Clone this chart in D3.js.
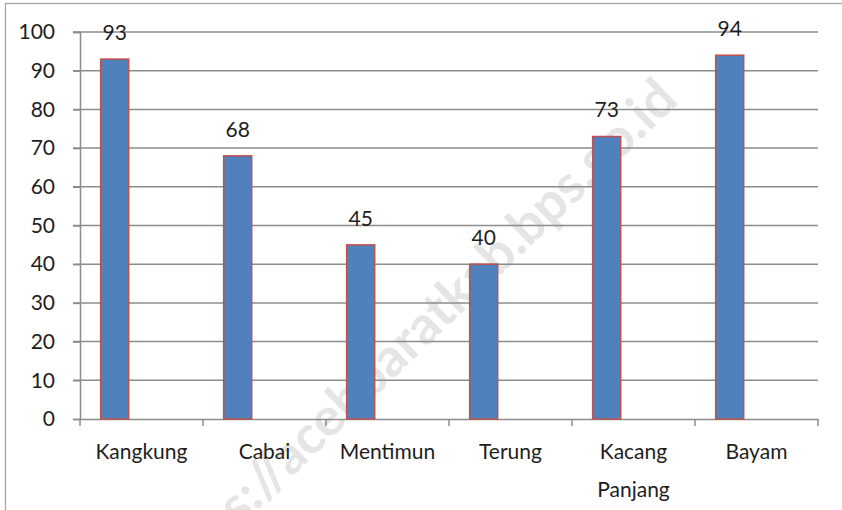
<!DOCTYPE html>
<html><head><meta charset="utf-8">
<script src="https://cdn.jsdelivr.net/npm/d3@7"></script>
<style>body{margin:0;background:#fff}svg{display:block}</style>
</head><body>
<svg id="c" width="842" height="510"></svg>
<script>
const categories = ["Kangkung", "Cabai", "Mentimun", "Terung", "Kacang Panjang", "Bayam"];
const values = [93, 68, 45, 40, 73, 94];
const yTicks = [0, 10, 20, 30, 40, 50, 60, 70, 80, 90, 100];
const watermark = "https://acehbaratkab.bps.go.id";

const svg = d3.select("#c");
const W = 842, H = 510;
const m = {left: 80, right: 24, top: 32, bottom: 91};
const font = "Lato, 'Noto Sans', sans-serif";
const fs = 21;

// outer frame
svg.append("rect").attr("x", 5.5).attr("y", 3.5).attr("width", W + 10).attr("height", H + 10)
  .attr("fill", "#fff").attr("stroke", "#a6a6a6").attr("stroke-width", 1.3);

// watermark (clipped to the page like the reference)
svg.append("text")
  .attr("transform", "translate(680,102) rotate(-44)")
  .attr("text-anchor", "end")
  .attr("font-family", "Lato, 'Open Sans', sans-serif").attr("font-weight", "bold")
  .attr("font-size", 53).attr("fill", "#e5e5e5")
  .text(watermark);

const x = d3.scaleBand().domain(categories).range([m.left, W - m.right]).padding(0);
const y = d3.scaleLinear().domain([0, 100]).range([H - m.bottom, m.top]);

const g = svg.append("g");
// gridlines
g.selectAll("line.grid").data(yTicks.filter(d => d > 0)).join("line")
  .attr("x1", m.left - 7).attr("x2", W - m.right)
  .attr("y1", d => y(d)).attr("y2", d => y(d))
  .attr("stroke", "#8c8c8c").attr("stroke-width", 1.5);

// y axis
const yAxis = d3.axisLeft(y).tickValues(yTicks).tickSize(7).tickPadding(18);
const ya = g.append("g").attr("transform", `translate(${m.left},0)`).call(yAxis);
ya.select(".domain").attr("stroke", "#8c8c8c").attr("stroke-width", 1.5);
ya.selectAll(".tick line").attr("stroke", "#8c8c8c").attr("stroke-width", 1.5);
ya.selectAll("text").attr("font-family", font).attr("font-size", fs).attr("fill", "#1e1e1e");

// x axis
const xAxis = d3.axisBottom(x).tickSize(0).tickFormat("");
const xa = g.append("g").attr("transform", `translate(0,${y(0)})`).call(xAxis);
xa.select(".domain").attr("stroke", "#8c8c8c").attr("stroke-width", 1.5);
xa.selectAll(".tick").remove();
const bounds = categories.map(c => x(c)).concat([x(categories[categories.length - 1]) + x.bandwidth()]);
g.selectAll("line.xt").data(bounds).join("line")
  .attr("x1", d => d).attr("x2", d => d)
  .attr("y1", y(0)).attr("y2", y(0) + 7)
  .attr("stroke", "#8c8c8c").attr("stroke-width", 1.5);

// category labels
const bw = x.bandwidth();
g.selectAll("text.cat").data(categories).join("text")
  .attr("font-family", font).attr("font-size", fs).attr("fill", "#1e1e1e")
  .attr("text-anchor", "middle")
  .each(function(d) {
    const words = d.split(" ");
    const t = d3.select(this);
    words.forEach((w, i) => {
      t.append("tspan").attr("x", x(d) + bw / 2).attr("y", y(0) + 40 + i * 38).text(w);
    });
  });

// bars
const barOff = bw * 0.168, barW = bw * 0.228;
g.selectAll("rect.bar").data(values).join("rect")
  .attr("x", (d, i) => x(categories[i]) + barOff)
  .attr("width", barW)
  .attr("y", d => y(d))
  .attr("height", d => y(0) - y(d))
  .attr("fill", "#4f81bd").attr("stroke", "#c0504d").attr("stroke-width", 1.5);

// value labels
g.selectAll("text.val").data(values).join("text")
  .attr("x", (d, i) => x(categories[i]) + barOff + barW / 2)
  .attr("y", d => y(d) - 19)
  .attr("text-anchor", "middle")
  .attr("font-family", font).attr("font-size", fs).attr("fill", "#1e1e1e")
  .text(d => d);
</script>
</body></html>
